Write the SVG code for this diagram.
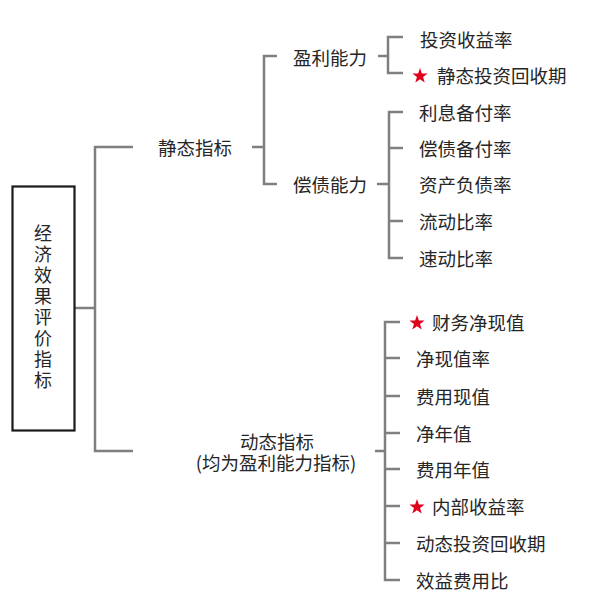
<svg xmlns="http://www.w3.org/2000/svg" xmlns:xlink="http://www.w3.org/1999/xlink" width="598" height="602" viewBox="0 0 598 602">
<style>
.t{font-family:"Noto Sans CJK SC","Noto Sans",sans-serif;font-size:18.5px;fill:#262626;dominant-baseline:central}
.v{font-family:"Noto Sans CJK SC","Noto Sans",sans-serif;font-size:18px;fill:#262626;writing-mode:vertical-rl;letter-spacing:3px}
.c{fill:none;stroke:#7f7f7f;stroke-width:2.5}
.star{fill:#e0001b}
</style>
<defs>
<path id="star" d="M0,-8 L1.88,-2.59 L7.61,-2.47 L3.05,0.99 L4.70,6.47 L0,3.2 L-4.70,6.47 L-3.05,0.99 L-7.61,-2.47 L-1.88,-2.59 Z"/>
</defs>
<rect width="598" height="602" fill="#ffffff"/>
<g id="connectors">
<path class="c" d="M75,308 H95 M133,147 H95 V451 H133"/>
<path class="c" d="M252,147 H264 M277,56 H264 V184 H277"/>
<path class="c" d="M378,56 H388 M403,37 H388 V73 H403"/>
<path class="c" d="M377,184 H389 M403,112 H389 V258 H403 M389,148 H403 M389,221 H403"/>
<path class="c" d="M375,451 H385 M400,322 H385 V580 H400 M385,358 H400 M385,396 H400 M385,433 H400 M385,469 H400 M385,506 H400 M385,543 H400"/>
</g>
<g id="root">
<rect x="12.5" y="186.5" width="62" height="244" fill="#ffffff" stroke="#1a1a1a" stroke-width="2.2"/>
<text class="v" x="43" y="224">经济效果评价指标</text>
</g>
<g id="static"><text class="t" x="158" y="147">静态指标</text></g>
<g id="profit"><text class="t" x="293" y="57">盈利能力</text></g>
<g id="solvency"><text class="t" x="293" y="184">偿债能力</text></g>
<g id="s1"><text class="t" x="420" y="39">投资收益率</text></g>
<g id="s2"><use xlink:href="#star" class="star" x="420" y="76"/><text class="t" x="437" y="75">静态投资回收期</text></g>
<g id="s3"><text class="t" x="419" y="112">利息备付率</text></g>
<g id="s4"><text class="t" x="419" y="148">偿债备付率</text></g>
<g id="s5"><text class="t" x="419" y="184">资产负债率</text></g>
<g id="s6"><text class="t" x="419" y="221">流动比率</text></g>
<g id="s7"><text class="t" x="419" y="258">速动比率</text></g>
<g id="dynamic"><text class="t" x="277" y="441" text-anchor="middle">动态指标</text><text class="t" x="276" y="462" text-anchor="middle">(均为盈利能力指标)</text></g>
<g id="d1"><use xlink:href="#star" class="star" x="417" y="323"/><text class="t" x="432" y="322">财务净现值</text></g>
<g id="d2"><text class="t" x="416" y="358">净现值率</text></g>
<g id="d3"><text class="t" x="416" y="396">费用现值</text></g>
<g id="d4"><text class="t" x="416" y="433">净年值</text></g>
<g id="d5"><text class="t" x="416" y="469">费用年值</text></g>
<g id="d6"><use xlink:href="#star" class="star" x="417" y="507"/><text class="t" x="432" y="506">内部收益率</text></g>
<g id="d7"><text class="t" x="416" y="543">动态投资回收期</text></g>
<g id="d8"><text class="t" x="416" y="580">效益费用比</text></g>
</svg>
